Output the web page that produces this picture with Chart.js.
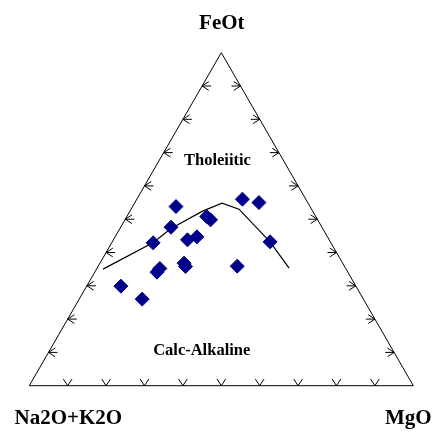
<!DOCTYPE html>
<html>
<head>
<meta charset="utf-8">
<script src="https://cdn.jsdelivr.net/npm/chart.js@4.4.0/dist/chart.umd.min.js"></script>
<style>
  body { margin: 0; background: #fff; }
  #wrap { width: 434px; height: 432px; }
</style>
</head>
<body>
<div id="wrap"><canvas id="afm" width="434" height="432"></canvas></div>
<script>
// AFM diagram, values in % (A = Na2O+K2O, F = FeOt, M = MgO)
const sampleA = [34.9, 16.5, 12.7, 39.3, 28.4, 27.9, 46.3, 36.9, 34.0, 15.7, 49.7, 48.4, 41.3, 41.4, 27.9, 61.2, 57.6];
const sampleF = [53.8, 56.0, 55.0, 47.6, 50.8, 49.8, 42.9, 43.8, 44.7, 43.2, 34.1, 35.2, 36.8, 35.8, 35.9, 29.9, 26.0];
const sampleM = [11.3, 27.5, 32.3, 13.1, 20.8, 22.3, 10.8, 19.3, 21.3, 41.1, 16.2, 16.4, 21.9, 22.8, 36.2, 8.9, 16.4];

// tholeiitic / calc-alkaline boundary (Irvine & Baragar 1971)
const lineA = [63.3, 46.2, 39.5, 28.5, 22.4, 18.9, 15.7, 14.7];
const lineF = [35.0, 43.0, 47.2, 52.5, 54.8, 53.0, 43.2, 35.3];
const lineM = [1.7, 10.8, 13.3, 19.0, 22.8, 28.1, 41.1, 50.0];

const cornerLabels = ['Na2O+K2O', 'MgO', 'FeOt'];
const fieldLabels = ['Tholeiitic', 'Calc-Alkaline'];
const tickSteps = [10, 20, 30, 40, 50, 60, 70, 80, 90];

const H = Math.sqrt(3) / 2;

// ternary -> cartesian (A bottom left, M bottom right, F top)
function tern(a, f, m) {
    const s = a + f + m;
    return { x: (m + f / 2) / s, y: (f / s) * H };
}

const samples = sampleA.map((a, i) => tern(a, sampleF[i], sampleM[i]));
const boundary = lineA.map((a, i) => tern(a, lineF[i], lineM[i]));
const frame = [tern(100, 0, 0), tern(0, 0, 100), tern(0, 100, 0), tern(100, 0, 0)];

const ternaryDecor = {
    id: 'ternaryDecor',
    afterDatasetsDraw(chart) {
        const ctx = chart.ctx;
        const xs = chart.scales.x, ys = chart.scales.y;
        const px = p => ({ x: xs.getPixelForValue(p.x), y: ys.getPixelForValue(p.y) });

        ctx.save();
        ctx.strokeStyle = '#000';
        ctx.lineWidth = 1;

        function arrow(tip, dx, dy, stem) {
            const ang = 33 * Math.PI / 180, len = 8;
            const bx = -dx, by = -dy;
            ctx.beginPath();
            if (stem) {
                ctx.moveTo(tip.x, tip.y);
                ctx.lineTo(tip.x + bx * stem, tip.y + by * stem);
            }
            for (const s of [-1, 1]) {
                const c = Math.cos(s * ang), sn = Math.sin(s * ang);
                ctx.moveTo(tip.x, tip.y);
                ctx.lineTo(tip.x + (bx * c - by * sn) * len, tip.y + (bx * sn + by * c) * len);
            }
            ctx.stroke();
        }

        tickSteps.forEach(t => {
            // bottom edge, pointing down
            arrow(px(tern(100 - t, 0, t)), 0, 1, 0);
            // left edge, pointing left
            arrow(px(tern(100 - t, t, 0)), -1, 0, 9);
            // right edge, pointing right
            arrow(px(tern(0, t, 100 - t)), 1, 0, 9);
        });

        ctx.fillStyle = '#000';
        ctx.textAlign = 'center';
        ctx.textBaseline = 'alphabetic';
        ctx.font = 'bold 21px "Liberation Serif", "DejaVu Serif", serif';
        const cA = px(tern(100, 0, 0)), cM = px(tern(0, 0, 100)), cF = px(tern(0, 100, 0));
        ctx.fillText(cornerLabels[0], cA.x + 39, cA.y + 38.5);
        ctx.fillText(cornerLabels[1], cM.x - 5, cM.y + 38.5);
        ctx.fillText(cornerLabels[2], cF.x + 0.5, cF.y - 23.5);

        ctx.font = 'bold 16.5px "Liberation Serif", "DejaVu Serif", serif';
        ctx.fillText(fieldLabels[0], xs.getPixelForValue(0.49), ys.getPixelForValue(0.575));
        ctx.fillText(fieldLabels[1], xs.getPixelForValue(0.449), ys.getPixelForValue(0.08));
        ctx.restore();
    }
};

const ctx = document.getElementById('afm').getContext('2d');
const afmChart = new Chart(ctx, {
    type: 'scatter',
    data: {
        datasets: [{
            label: 'Samples',
            data: samples,
            order: 0,
            pointStyle: 'rectRot',
            pointRadius: 7,
            backgroundColor: '#00008B',
            borderColor: '#00008B',
            borderWidth: 1,
            clip: false
        }, {
            label: 'Boundary',
            data: boundary,
            order: 1,
            showLine: true,
            pointRadius: 0,
            borderColor: '#000',
            borderWidth: 1.2,
            clip: false
        }, {
            label: 'Frame',
            data: frame,
            order: 2,
            showLine: true,
            pointRadius: 0,
            borderColor: '#000',
            borderWidth: 1,
            clip: false
        }]
    },
    options: {
        responsive: false,
        animation: false,
        layout: {
            padding: { left: 29.3, right: 20.7, top: 52.7, bottom: 46.3 }
        },
        scales: {
            x: { type: 'linear', min: 0, max: 1, display: false },
            y: { type: 'linear', min: 0, max: H, display: false }
        },
        plugins: {
            legend: { display: false },
            tooltip: { enabled: false }
        }
    },
    plugins: [ternaryDecor]
});
</script>
</body>
</html>
